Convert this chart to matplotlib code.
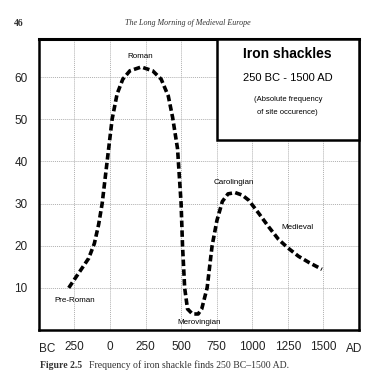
import matplotlib.pyplot as plt
from matplotlib.patches import Rectangle

# curve (year, number of sites)
years = [-290, -230, -150, -110, -80, -55, -20, 15, 50, 90, 140, 220, 300,
         360, 410, 440, 475, 500, 510, 525, 545, 580, 620, 645, 683, 718,
         752, 790, 830, 880, 930, 975, 1050, 1115, 1185, 1250, 1325, 1400,
         1490]
freq = [10, 13, 17, 20.5, 25, 30, 40, 50, 56, 59.5, 61.5, 62.4, 61.5,
        59.5, 55.5, 50.5, 43, 30, 20, 10, 5, 3.8, 3.8, 5, 10, 20,
        26, 30.5, 32.3, 32.6, 32, 30.8, 27.5, 24.5, 21.5, 19.5, 17.5, 16,
        14.4]

xticks = [-250, 0, 250, 500, 750, 1000, 1250, 1500]
xtick_labels = ['250', '0', '250', '500', '750', '1000', '1250', '1500']
yticks = [10, 20, 30, 40, 50, 60]

periods = ['Pre-Roman', 'Roman', 'Merovingian', 'Carolingian', 'Medieval']
period_x = [-250, 209, 627, 870, 1316]
period_y = [6.9, 64.8, 1.9, 35, 24.3]

plt.rcParams['font.family'] = ['Liberation Sans', 'DejaVu Sans']

fig = plt.figure(figsize=(3.81, 3.84), dpi=100)
ax = fig.add_axes([0.102, 0.1406, 0.840, 0.7574])

ax.plot(years, freq, color='black', linewidth=2.6, linestyle=(0, (1.8, 0.9)),
        zorder=4)

ax.set_xlim(-500, 1750)
ax.set_ylim(0, 69)
ax.set_xticks(xticks)
ax.set_xticklabels(xtick_labels)
ax.set_yticks(yticks)
ax.tick_params(length=0, labelsize=8.5, colors='#222222')
ax.tick_params(axis='x', pad=8)
ax.tick_params(axis='y', pad=8)
ax.grid(True, color='#b0b0b0', linestyle=(0, (1, 1)), linewidth=0.7)
for s in ax.spines.values():
    s.set_linewidth(1.8)
ax.spines['top'].set_linewidth(2.2)

ax.text(-440, -3.0, 'BC', ha='center', va='top', fontsize=8.5, color='#222222')
ax.text(1720, -3.0, 'AD', ha='center', va='top', fontsize=8.5, color='#222222',
        clip_on=False)

for name, px, py in zip(periods, period_x, period_y):
    ax.text(px, py, name, ha='center', va='center', fontsize=5.8, zorder=5)

# legend box in the upper right
box = Rectangle((750, 45), 1000, 24, facecolor='white', edgecolor='black',
                linewidth=1.8, zorder=6, clip_on=False)
ax.add_patch(box)
ax.text(1250, 65.5, 'Iron shackles', ha='center', va='center', fontsize=10,
        fontweight='bold', zorder=7)
ax.text(1250, 59.8, '250 BC - 1500 AD', ha='center', va='center',
        fontsize=8, zorder=7)
ax.text(1250, 54.8, '(Absolute frequency', ha='center', va='center',
        fontsize=5.5, zorder=7)
ax.text(1250, 51.7, 'of site occurence)', ha='center', va='center',
        fontsize=5.5, zorder=7)

# page header and caption of the scanned book
fig.text(19 / 381, 1 - 23 / 384, '46', ha='center', va='center',
         fontsize=7, family='Liberation Serif', fontweight='bold',
         color='#333333')
fig.text(188 / 381, 1 - 23 / 384, 'The Long Morning of Medieval Europe',
         ha='center', va='center', fontsize=5.8, family='Liberation Serif',
         style='italic', color='#333333')
fig.text(40 / 381, 1 - 365 / 384, 'Figure 2.5', ha='left', va='center',
         fontsize=7, family='Liberation Serif', fontweight='bold',
         color='#333333')
fig.text(89 / 381, 1 - 365 / 384,
         'Frequency of iron shackle finds 250 BC\u20131500 AD.',
         ha='left', va='center', fontsize=7, family='Liberation Serif',
         color='#333333')

fig.savefig('out.png', dpi=100)
